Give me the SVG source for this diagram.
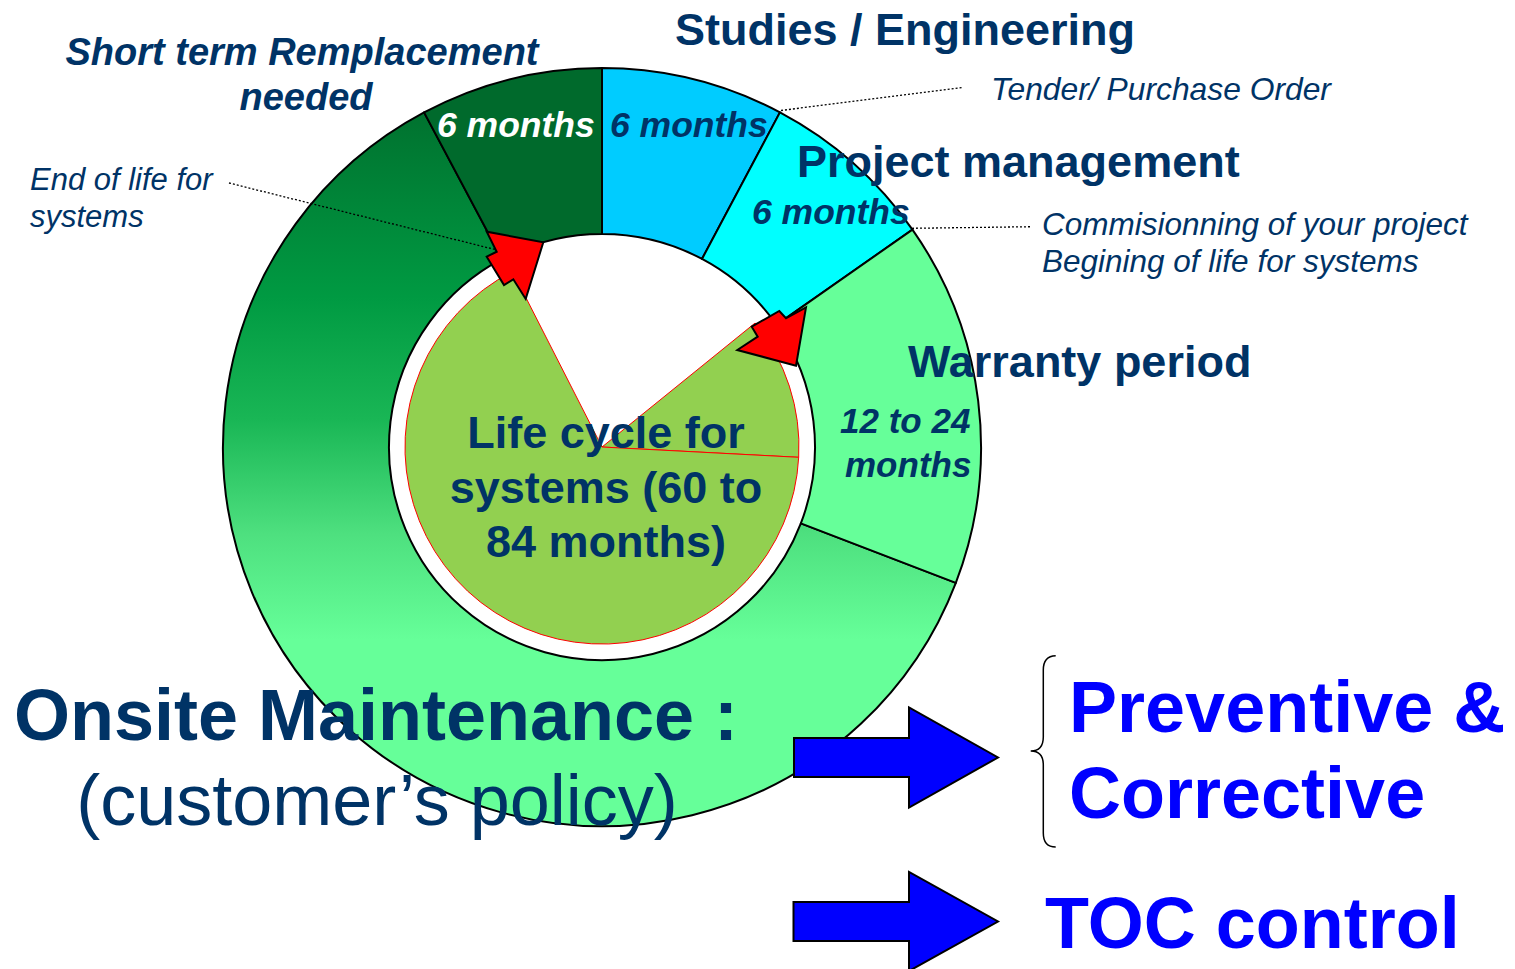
<svg xmlns="http://www.w3.org/2000/svg" width="1515" height="969" viewBox="0 0 1515 969">
<style>
.seg{stroke:#000;stroke-width:2;stroke-linejoin:round}
.pie{fill:#92D050;stroke:#FF0000;stroke-width:1}
.redarrow{fill:#FF0000;stroke:#000;stroke-width:2;stroke-linejoin:miter}
.bluearrow{fill:#0000FF;stroke:#000;stroke-width:2}
.lead{fill:none;stroke:#000;stroke-width:1.3;stroke-dasharray:2 2}
.t{font-family:"Liberation Sans",Arial,sans-serif;fill:#003366}
.b{font-weight:bold}
.i{font-style:italic}
.blue{fill:#0000FF}
</style>
<defs>
<linearGradient id="bigGrad" gradientUnits="userSpaceOnUse" x1="0" y1="113" x2="0" y2="640">
<stop offset="0" stop-color="#00722F"/>
<stop offset="0.35" stop-color="#009A42"/>
<stop offset="0.58" stop-color="#19B655"/>
<stop offset="0.80" stop-color="#4EE07F"/>
<stop offset="1" stop-color="#66FF99"/>
</linearGradient>
</defs>
<rect width="1515" height="969" fill="#fff"/>

<g id="donut">
<path id="seg-maintenance" class="seg" fill="url(#bigGrad)" d="M955.83,582.82 A379,379 0 1 1 424.07,112.38 L502,258.94 A213,213 0 1 0 800.85,523.33 Z"/>
<path id="seg-shortterm" class="seg" fill="#006A2C" d="M424.07,112.38 A379,379 0 0 1 602,68 L602,234 A213,213 0 0 0 502,258.94 Z"/>
<path id="seg-studies" class="seg" fill="#00CCFF" d="M602,68 A379,379 0 0 1 779.93,112.38 L702,258.94 A213,213 0 0 0 602,234 Z"/>
<path id="seg-project" class="seg" fill="#00FFFF" d="M779.93,112.38 A379,379 0 0 1 912.46,229.61 L776.48,324.82 A213,213 0 0 0 702,258.94 Z"/>
<path id="seg-warranty" class="seg" fill="#66FF99" d="M912.46,229.61 A379,379 0 0 1 955.83,582.82 L800.85,523.33 A213,213 0 0 0 776.48,324.82 Z"/>
</g>

<g id="lifecycle-pie">
<path class="pie" d="M602,447 L755.1,323 A197,197 0 0 1 798.7,457.3 Z"/>
<path class="pie" d="M602,447 L798.7,457.3 A197,197 0 1 1 512.6,271.5 Z"/>
</g>

<g id="connectors">
<line class="lead" x1="229" y1="183" x2="497" y2="250"/>
<line class="lead" x1="781" y1="110.5" x2="962" y2="87.5"/>
<line class="lead" x1="912" y1="228.3" x2="1032" y2="226.7"/>
</g>

<g id="red-arrow-end">
<polygon class="redarrow" points="543.3,242.3 525.7,299 513.3,279.3 504,285 486.7,256.7 496.7,251.7 486.7,231.7"/>
</g>
<g id="red-arrow-begin">
<polygon class="redarrow" points="806,307.3 796,365.7 737.3,350 757.7,336.7 751.7,326.7 779.3,311 786,318.3"/>
</g>

<g id="label-shortterm">
<text class="t b i" x="302" y="65" font-size="38" text-anchor="middle">Short term Remplacement</text>
<text class="t b i" x="306" y="110" font-size="38" text-anchor="middle">needed</text>
<text class="t b i" x="437" y="137" font-size="35.5" style="fill:#fff">6 months</text>
</g>
<g id="label-studies">
<text class="t b" x="675" y="45" font-size="45">Studies / Engineering</text>
<text class="t b i" x="610" y="137" font-size="35.5">6 months</text>
</g>
<g id="label-tender">
<text class="t i" x="991" y="100" font-size="31.8">Tender/ Purchase Order</text>
</g>
<g id="label-project">
<text class="t b" x="797" y="177" font-size="45">Project management</text>
<text class="t b i" x="752" y="224" font-size="35.5">6 months</text>
</g>
<g id="label-commissioning">
<text class="t i" x="1042" y="235" font-size="31.5">Commisionning of your project</text>
<text class="t i" x="1042" y="272" font-size="31.5">Begining of life for systems</text>
</g>
<g id="label-endoflife">
<text class="t i" x="30" y="190" font-size="31">End of life for</text>
<text class="t i" x="30" y="227" font-size="31">systems</text>
</g>
<g id="label-warranty">
<text class="t b" x="908" y="377" font-size="45">Warranty period</text>
<text class="t b i" x="840" y="433" font-size="35">12 to 24</text>
<text class="t b i" x="845" y="477" font-size="35">months</text>
</g>
<g id="label-lifecycle">
<text class="t b" x="606" y="448" font-size="45" text-anchor="middle">Life cycle for</text>
<text class="t b" x="606" y="503" font-size="45" text-anchor="middle">systems (60 to</text>
<text class="t b" x="606" y="557" font-size="45" text-anchor="middle">84 months)</text>
</g>
<g id="label-maintenance">
<text class="t b" x="376" y="740" font-size="72" text-anchor="middle">Onsite Maintenance :</text>
<text class="t" x="377" y="825" font-size="72" text-anchor="middle">(customer’s policy)</text>
</g>

<g id="blue-arrow-1">
<polygon class="bluearrow" points="794,738 909,738 909,707.5 998,757.5 909,807.5 909,777 794,777"/>
</g>
<g id="blue-arrow-2">
<polygon class="bluearrow" points="793.5,902 909,902 909,872 998,921.5 909,971 909,941 793.5,941"/>
</g>
<g id="brace">
<path d="M1055.7,655.7 Q1043.3,656 1043.3,670 L1043.3,737 Q1043.3,751 1030.7,751 Q1043.3,751 1043.3,765 L1043.3,833 Q1043.3,847 1055.7,847" fill="none" stroke="#000" stroke-width="1.5"/>
</g>
<g id="label-preventive">
<text class="t b blue" x="1069" y="732" font-size="72">Preventive &amp;</text>
<text class="t b blue" x="1069" y="818" font-size="72">Corrective</text>
</g>
<g id="label-toc">
<text class="t b blue" x="1045" y="948" font-size="72">TOC control</text>
</g>
</svg>
